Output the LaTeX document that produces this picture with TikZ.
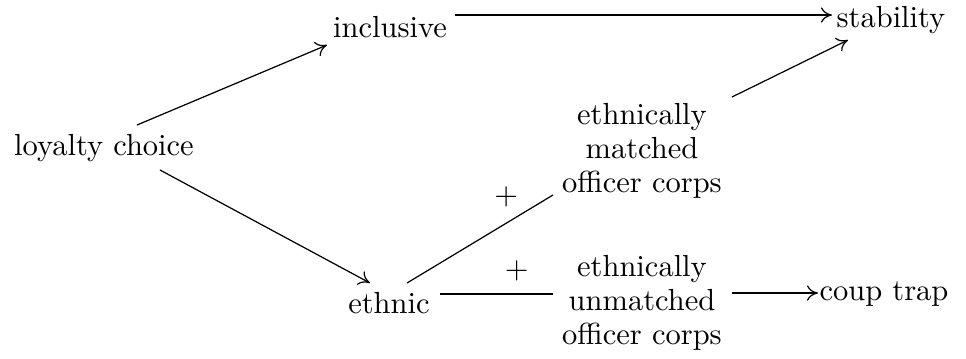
\documentclass[tikz,border=0pt]{standalone}
\usetikzlibrary{arrows.meta}
\begin{document}
\begin{tikzpicture}[x=0.328pt,y=-0.328pt,
  lbl/.style={inner sep=0pt, font=\fontsize{10pt}{11.2pt}\selectfont},
  multi/.style={lbl, align=center},
  arr/.style={-{To[length=3.6pt,width=5pt]}},
  plain/.style={-}]
\useasboundingbox (0,0) rectangle (966,358);
% nodes
\node[lbl, anchor=base] (loyalty) at (104,155) {loyalty choice};
\node[lbl, anchor=base] (inclusive) at (390,37) {inclusive};
\node[lbl, anchor=base] (stability) at (891,27) {stability};
\node[lbl, anchor=base] (ethnic) at (389,313) {ethnic};
\node[lbl, anchor=base] (coup) at (884,300) {coup trap};
\node[multi] (matched) at (642,151) {ethnically\\matched\\officer corps};
\node[multi] (unmatched) at (642,303) {ethnically\\unmatched\\officer corps};
% connectors
\draw[arr] ([shift={(33,-30)}]loyalty.base) -- ([shift={(-63,8)}]inclusive.base);
\draw[arr] ([shift={(56,15)}]loyalty.base) -- ([shift={(-19,-30)}]ethnic.base);
\draw[arr] ([shift={(65,-22)}]inclusive.base) -- ([shift={(-59,-12)}]stability.base);
\draw[arr] ([shift={(90,-54)}]matched.center) -- ([shift={(-43,13)}]stability.base);
\draw[plain] ([shift={(18,-30)}]ethnic.base) -- node[pos=0.68, above=5pt, lbl] (p1) {$+$} ([shift={(-89,44)}]matched.center);
\draw[plain] ([shift={(51,-19)}]ethnic.base) -- node[pos=0.68, above=4pt, lbl] (p2) {$+$} ([shift={(-89,-9)}]unmatched.center);
\draw[arr] ([shift={(90,-10)}]unmatched.center) -- ([shift={(-66,-7)}]coup.base);
\end{tikzpicture}
\end{document}
